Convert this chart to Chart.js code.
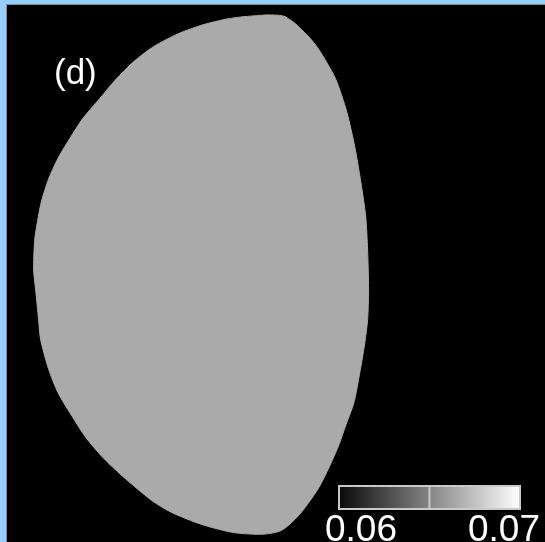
<!DOCTYPE html>
<html>
<head>
<meta charset="utf-8">
<script src="https://cdn.jsdelivr.net/npm/chart.js@4.4.0/dist/chart.umd.min.js"></script>
<style>
  html, body { margin: 0; padding: 0; background: #99ccff; overflow: hidden; }
  #wrap { position: absolute; left: 6px; top: 4px; width: 539px; height: 538px;
          border-left: 1px solid #8a8a8a; border-top: 1px solid #8a8a8a; background: #000; }
  canvas { display: block; }
</style>
</head>
<body>
<div id="wrap"><canvas id="plot" width="538" height="537"></canvas></div>
<script>
// plasma boundary (R right, Z up, arbitrary units)
var boundaryR = [246, 261, 276, 285, 293, 303, 311, 318, 330, 341, 349, 355, 360, 362, 363, 362, 359, 353,
                 348, 340, 333, 323, 313, 303, 293, 283, 273, 258, 243, 223, 193, 163, 143, 113, 93, 76,
                 63, 48, 38, 30, 28, 25, 23, 24, 27, 31, 38, 48, 60, 73, 90, 106, 125, 145, 170, 195, 220, 234, 246]
var boundaryZ = [530, 531, 530, 525, 518, 508, 498, 487, 465, 432, 397, 362, 327, 292, 252, 222, 197, 162,
                 137, 115, 95, 72, 52, 37, 24, 14, 7, 4, 4, 6, 14, 26, 38, 63, 82, 102,
                 122, 147, 172, 202, 222, 252, 272, 302, 322, 342, 364, 386, 406, 426, 446, 465, 484, 499, 512, 521, 527, 529, 530]
var hotSpotR = [276]
var hotSpotZ = [62]
var colorbarTicks = ['0.06', '0.07']
var panelLabel = '(d)'

var shapePts = boundaryR.map(function (r, i) { return { x: r, y: boundaryZ[i] } })
var spotPts = hotSpotR.map(function (r, i) { return { x: r, y: hotSpotZ[i] } })

var decor = {
  id: 'decor',
  afterDatasetsDraw: function (chart) {
    var ctx = chart.ctx
    var a = chart.chartArea
    ctx.save()
    // panel label
    ctx.fillStyle = '#ffffff'
    ctx.font = '35px "Liberation Sans", Arial, sans-serif'
    ctx.textBaseline = 'alphabetic'
    ctx.textAlign = 'left'
    ctx.fillText(panelLabel, a.left + 43, a.top + 75)

    // colorbar
    var x0 = a.left + 328, x1 = a.left + 509, y0 = a.top + 477, y1 = a.top + 500
    var grad = ctx.createLinearGradient(x0, 0, x1, 0)
    grad.addColorStop(0, '#0a0a0a')
    grad.addColorStop(1, '#ffffff')
    ctx.fillStyle = grad
    ctx.fillRect(x0, y0, x1 - x0, y1 - y0)
    ctx.strokeStyle = '#c8c8c8'
    ctx.lineWidth = 2
    ctx.strokeRect(x0, y0, x1 - x0, y1 - y0)
    ctx.beginPath()
    ctx.moveTo((x0 + x1) / 2, y0)
    ctx.lineTo((x0 + x1) / 2, y1)
    ctx.stroke()

    ctx.fillStyle = '#ffffff'
    ctx.font = '37px "Liberation Sans", Arial, sans-serif'
    ctx.textAlign = 'center'
    ctx.fillText(colorbarTicks[0], a.left + 350, a.top + 532)
    ctx.fillText(colorbarTicks[1], a.left + 493, a.top + 532)
    ctx.restore()
  }
}

new Chart(document.getElementById('plot').getContext('2d'), {
  type: 'scatter',
  data: {
    datasets: [
      {
        data: shapePts,
        showLine: true,
        fill: 'shape',
        backgroundColor: '#aaaaaa',
        borderColor: '#aaaaaa',
        borderWidth: 1,
        pointRadius: 0,
        tension: 0.25
      },
      {
        data: spotPts,
        pointRadius: 1.5,
        pointBorderWidth: 0,
        backgroundColor: '#d4d4d4'
      }
    ]
  },
  options: {
    responsive: false,
    devicePixelRatio: 1,
    animation: false,
    layout: { padding: 0 },
    plugins: { legend: { display: false }, tooltip: { enabled: false } },
    scales: {
      x: { type: 'linear', display: false, min: 0, max: 538 },
      y: { type: 'linear', display: false, min: 0, max: 537 }
    }
  },
  plugins: [decor]
})
</script>
</body>
</html>
